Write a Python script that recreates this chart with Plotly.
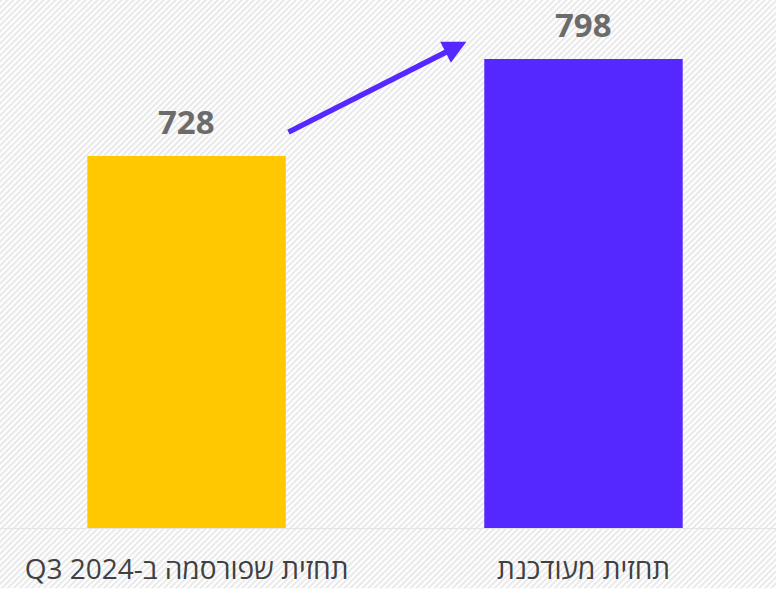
import base64
import plotly.graph_objects as go

# ---- data ----
categories = ["\u202bתחזית שפורסמה ב-Q3 2024\u202c", "\u202bתחזית מעודכנת\u202c"]
values = [728, 798]
value_labels = ["728", "798"]
bar_colors = ["#FFC800", "#5528FF"]

# axis scale
y_min, y_max = 459.2, 840.6
x_range = [-0.47, 1.485]

W, H = 776, 589
plot_h = 528.5

svg = (
    f"<svg xmlns='http://www.w3.org/2000/svg' width='{W}' height='{H}'>"
    "<defs><pattern id='p' width='4.25' height='10' patternUnits='userSpaceOnUse' "
    "patternTransform='rotate(45)'><rect width='2.1' height='10' fill='#e9e9e9'/></pattern></defs>"
    "<rect width='100%' height='100%' fill='#ffffff'/>"
    "<rect width='100%' height='100%' fill='url(#p)'/></svg>"
)
bg_uri = "data:image/svg+xml;base64," + base64.b64encode(svg.encode()).decode()

fig = go.Figure()
fig.add_trace(go.Bar(
    x=categories, y=[v - y_min for v in values], base=y_min,
    marker=dict(color=bar_colors, line=dict(width=0)),
    width=0.5, hoverinfo="skip",
))

for c, v, t in zip(categories, values, value_labels):
    fig.add_annotation(x=c, y=v, text=f"<b>{t}</b>", showarrow=False,
                       yanchor="bottom", yshift=10,
                       font=dict(family="Open Sans", size=33, color="#6B6B6B"))

# growth arrow between bars
fig.add_annotation(
    x=0.705, y=810.5, ax=0.253, ay=744.6,
    xref="x", yref="y", axref="x", ayref="y",
    text="", showarrow=True, arrowhead=2, arrowsize=0.85, arrowwidth=5.5,
    arrowcolor="#5528FF", standoff=0, startstandoff=0,
)

fig.add_layout_image(dict(
    source=bg_uri, xref="paper", yref="paper", x=0, y=1,
    sizex=1, sizey=H / plot_h, xanchor="left", yanchor="top",
    sizing="stretch", layer="below",
))

fig.update_layout(
    width=W, height=H,
    margin=dict(l=0, r=0, t=0, b=H - plot_h, pad=0, autoexpand=False),
    paper_bgcolor="white", plot_bgcolor="rgba(0,0,0,0)",
    showlegend=False,
    xaxis=dict(type="category", range=x_range, showgrid=False, zeroline=False,
               showline=True, linecolor="#e4e4e4", linewidth=1,
               ticks="", ticklabelstandoff=16, automargin=False,
               tickfont=dict(family="Open Sans", size=28, color="#404040"),
               fixedrange=True),
    yaxis=dict(range=[y_min, y_max], visible=False, fixedrange=True, automargin=False),
)

fig.write_html("out.html", config={"displayModeBar": False},
               post_script="document.body.style.margin='0';")
